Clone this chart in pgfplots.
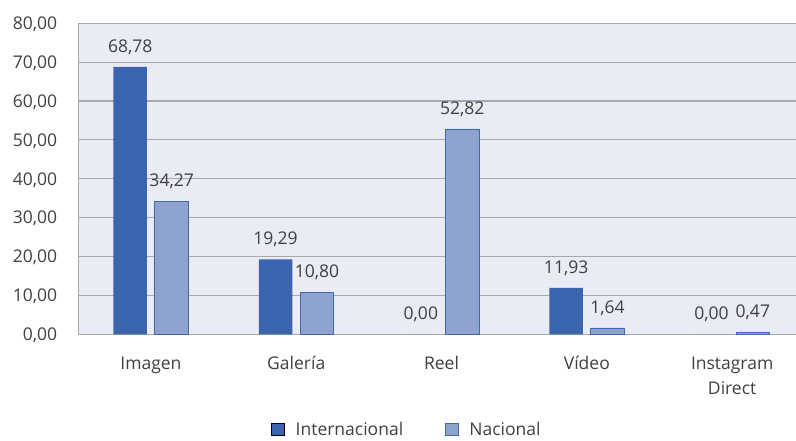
\documentclass[border=0pt]{standalone}
\usepackage{pgfplots}
\pgfplotsset{compat=1.18}
\usepackage{fontspec}
\setmainfont{Open Sans}
\definecolor{intl}{HTML}{3A64AD}
\definecolor{intledge}{HTML}{2F5597}
\definecolor{nac}{HTML}{8FA3D1}
\definecolor{nacedge}{HTML}{4468AE}
\definecolor{bg}{HTML}{E9EBF5}
\definecolor{gridc}{HTML}{A9A9A9}
\definecolor{txt}{HTML}{404040}
\newcommand{\chartfont}{\fontsize{17.5}{25}\selectfont}
\begin{document}
\begin{tikzpicture}[x=1pt,y=1pt]
\useasboundingbox (0,0) rectangle (796,441);
\begin{axis}[
  at={(78.3pt,106.7pt)}, anchor=south west,
  scale only axis, width=721.7pt, height=311pt,
  xmin=-0.5, xmax=4.467, ymin=0, ymax=80,
  ytick={0,10,...,80},
  xtick={0,1,2,3,4},
  xticklabels={Imagen,Galería,Reel,Vídeo,{\begin{tabular}[t]{@{}c@{}}Instagram\\Direct\end{tabular}}},
  axis background/.style={fill=bg},
  axis line style={draw=gridc, line width=1pt},
  ymajorgrids, grid style={draw=gridc, line width=1.1pt},
  major tick length=0pt,
  ybar=7.9pt, bar width=33.5pt,
  /pgf/number format/.cd, fixed, fixed zerofill, precision=2, use comma, assume math mode=true,
  /pgfplots/.cd,
  yticklabel style={font=\chartfont, text=txt, anchor=base east, inner sep=0pt, xshift=-21pt, yshift=-6.3pt},
  xticklabel style={font=\chartfont, text=txt, anchor=base, inner sep=0pt, yshift=-35pt},
  nodes near coords,
  nodes near coords style={font=\chartfont, text=txt, anchor=base, inner sep=0pt, yshift=14.5pt},
  legend columns=2,
  legend style={at={(0.4541,-0.306)}, anchor=center, draw=none, fill=none,
    font=\chartfont, text=txt, nodes={inner sep=0pt},
    /tikz/every odd column/.append style={column sep=11pt},
    /tikz/every even column/.append style={column sep=42pt}},
  legend image code/.code={\draw[#1, line width=0.8pt] (0pt,-6.2pt) rectangle (12.5pt,6.2pt);},
]
\addplot[fill=intl, draw=none] coordinates {(0,68.78) (1,19.29) (2,0) (3,11.93) (4,0)};
\addlegendentry{Internacional}
\addplot[fill=nac, draw=nacedge, line width=0.8pt] coordinates {(0,34.27) (1,10.80) (2,52.82) (3,1.64) (4,0.47)};
\addlegendentry{Nacional}
\end{axis}
\end{tikzpicture}
\end{document}
